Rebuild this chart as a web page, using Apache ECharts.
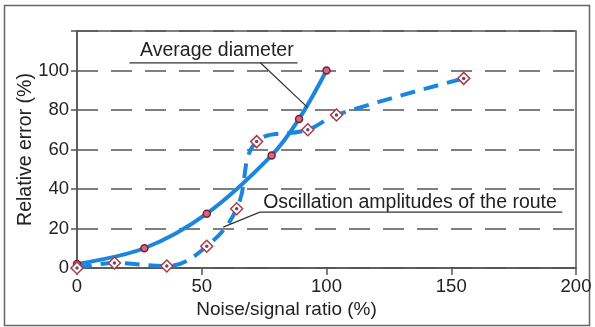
<!DOCTYPE html>
<html>
<head>
<meta charset="utf-8">
<script src="https://cdn.jsdelivr.net/npm/echarts@6/dist/echarts.min.js"></script>
<style>
  html, body { margin: 0; padding: 0; background: #fff; }
  #chart { width: 595px; height: 327px; }
</style>
</head>
<body>
<div id="chart"></div>
<script>
// values (x: noise/signal %, y: relative error %)
const avgDiamX = [0, 27, 52, 78, 89, 100];
const avgDiamY = [2, 10, 27.5, 57, 75.5, 100];
const oscX = [0, 15, 36, 52, 64, 72, 92.5, 104, 155];
const oscY = [0, 2.5, 1, 11, 30, 64, 70, 77.5, 96];
const xTicks = [0, 50, 100, 150, 200];
const yTicks = [0, 20, 40, 60, 80, 100, 120];

const FONT = "Liberation Sans";
const BLUE = "#1c86de";
const pairs = (xs, ys) => xs.map((x, i) => [x, ys[i]]);

const chart = echarts.init(document.getElementById("chart"));

chart.setOption({
  animation: false,
  textStyle: { fontFamily: FONT },
  grid: {
    left: 77, right: 19, top: 31, bottom: 59,
    show: true, borderColor: "#555", borderWidth: 1.5,
  },
  xAxis: {
    type: "value",
    min: xTicks[0], max: xTicks[xTicks.length - 1], interval: 50,
    name: "Noise/signal ratio (%)",
    nameLocation: "middle",
    nameGap: 32,
    nameMoveOverlap: false,
    nameTextStyle: { fontSize: 19, color: "#222", padding: [0, 80, 0, 0] },
    axisLine: { lineStyle: { color: "#555", width: 1.5 } },
    axisTick: { show: true, inside: false, length: 7, lineStyle: { color: "#555", width: 1.5 } },
    axisLabel: { fontSize: 18.5, color: "#222", margin: 9 },
    splitLine: { show: false },
  },
  yAxis: {
    type: "value",
    min: yTicks[0], max: yTicks[yTicks.length - 1], interval: 20,
    name: "Relative error (%)",
    nameLocation: "middle",
    nameRotate: 90,
    nameGap: 41,
    nameMoveOverlap: false,
    nameTextStyle: { fontSize: 19.5, color: "#222" },
    axisLine: { show: true, lineStyle: { color: "#555", width: 1.5 } },
    axisTick: { show: true, length: 6, lineStyle: { color: "#555", width: 1.5 } },
    axisLabel: {
      fontSize: 18.5, color: "#222", margin: 8,
      formatter: (v) => (v === 120 ? "" : String(v)),
    },
    splitLine: {
      show: true,
      lineStyle: { color: "#555", width: 1.5, type: [21, 13] },
    },
  },
  series: [
    {
      name: "Average diameter",
      type: "line",
      data: pairs(avgDiamX, avgDiamY),
      smooth: 0.35,
      symbol: "circle",
      symbolSize: 7,
      lineStyle: { color: BLUE, width: 4 },
      itemStyle: { color: "#d06a80", borderColor: "#7d1f30", borderWidth: 1.5 },
      z: 3,
    },
    {
      name: "Oscillation amplitudes of the route",
      type: "line",
      data: pairs(oscX, oscY),
      smooth: 0.4,
      symbol: "diamond",
      symbolSize: 12,
      lineStyle: { color: BLUE, width: 4, type: [15, 9] },
      itemStyle: { color: "#fff", borderColor: "#b03a48", borderWidth: 1.5 },
      z: 3,
    },
    {
      // centre dot of the diamond markers
      type: "scatter",
      data: pairs(oscX, oscY),
      symbol: "circle",
      symbolSize: 3.5,
      itemStyle: { color: "#3a2050" },
      silent: true,
      z: 4,
    },
  ],
});

// annotations placed in data coordinates
const notes = [
  { text: "Average diameter", at: [25.3, 110], line: [[21, 103.9], [88.4, 103.9]], leader: [[73.5, 103.9], [92.4, 81.3]] },
  { text: "Oscillation amplitudes of the route", at: [74.6, 33], line: [[73.3, 28.3], [194.5, 28.3]], leader: [[73.3, 28.3], [58.6, 20.7]] },
];
const px = (p) => chart.convertToPixel({ gridIndex: 0 }, p);
const elements = [];
notes.forEach((n) => {
  const t = px(n.at);
  elements.push({
    type: "text", x: t[0], y: t[1], z: 10,
    style: { text: n.text, font: "19.5px " + FONT, fill: "#222", textVerticalAlign: "middle", verticalAlign: "middle" },
  });
  [n.line, n.leader].forEach((seg) => {
    const a = px(seg[0]), b = px(seg[1]);
    elements.push({
      type: "line", z: 10,
      shape: { x1: a[0], y1: a[1], x2: b[0], y2: b[1] },
      style: { stroke: "#333", lineWidth: 1.2 },
    });
  });
});
// outer frame
elements.push({
  type: "rect", z: 0,
  shape: { x: 4.5, y: 5.5, width: 585, height: 320 },
  style: { fill: "none", stroke: "#666", lineWidth: 1.5 },
});
chart.setOption({ graphic: elements });
</script>
</body>
</html>
